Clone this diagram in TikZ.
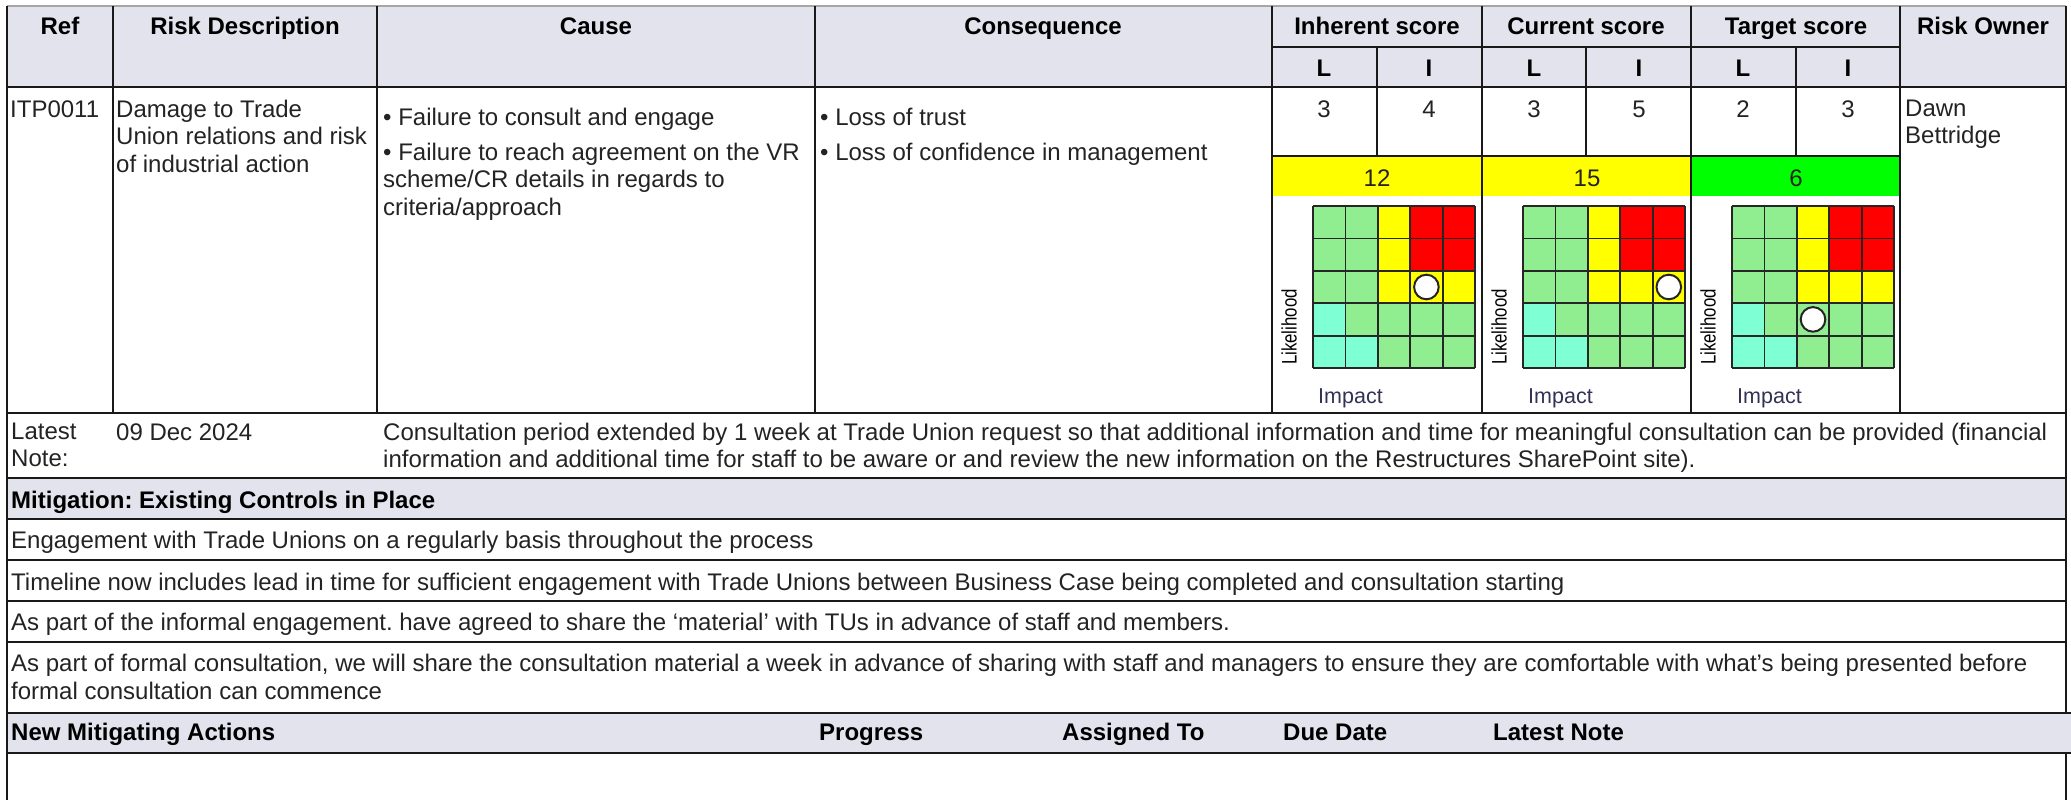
\documentclass[tikz,border=0pt]{standalone}
\usepackage{fontspec}
\setmainfont{Liberation Sans}
\usetikzlibrary{positioning}
\frenchspacing
\definecolor{hdrfill}{RGB}{227,227,238}
\definecolor{lowgreen}{RGB}{144,238,144}
\definecolor{midyellow}{RGB}{255,255,0}
\definecolor{highred}{RGB}{255,0,0}
\definecolor{lowcyan}{RGB}{127,255,212}
\definecolor{bandgreen}{RGB}{0,255,0}
\definecolor{inkgrey}{RGB}{35,35,35}
\definecolor{axisblue}{RGB}{50,50,85}
\tikzset{
  tabrule/.style={line width=2.6pt, draw=black!90},
  bodytext/.style={inner sep=0pt, text=inkgrey, font=\fontsize{24}{27.5}\selectfont},
  bodyblock/.style={bodytext, align=left},
  headtext/.style={inner sep=0pt, text=black, font=\bfseries\fontsize{24}{27.5}\selectfont},
  gridline/.style={line width=1.8pt, draw=black!85},
  scoremark/.style={circle, fill=white, draw=black!85, line width=2pt, minimum size=24.6pt, inner sep=0pt},
}
\begin{document}
\begin{tikzpicture}[x=1pt, y=-1pt]
  \useasboundingbox (0,0) rectangle (2071,800);
  % grey header bands
  \fill[hdrfill] (7,6) rectangle (2066,87);
  \fill[hdrfill] (7,478) rectangle (2066,519);
  \fill[hdrfill] (7,713) rectangle (2071,753);
  % score columns: L, I, total, band colour
  \foreach \sx/\sl/\si/\tot/\band/\nm in {1272/3/4/12/midyellow/inh, 1482/3/5/15/midyellow/cur, 1691/2/3/6/bandgreen/tgt} {
    \fill[\band] (\sx,156) rectangle ++(209,40);
    \begin{scope}[shift={(\sx+41,206)}]
      \foreach \c [count=\n from 0] in {lowgreen,lowgreen,midyellow,highred,highred,
          lowgreen,lowgreen,midyellow,highred,highred,
          lowgreen,lowgreen,midyellow,midyellow,midyellow,
          lowcyan,lowgreen,lowgreen,lowgreen,lowgreen,
          lowcyan,lowcyan,lowgreen,lowgreen,lowgreen} {
        \pgfmathtruncatemacro\cx{mod(\n,5)}
        \pgfmathtruncatemacro\cy{div(\n,5)}
        \fill[\c] (\cx*32.4,\cy*32.4) rectangle ++(32.4,32.4);
      }
      \foreach \g in {0,...,5} {
        \draw[gridline] (\g*32.4,0) -- (\g*32.4,162);
        \draw[gridline] (0,\g*32.4) -- (162,\g*32.4);
      }
      \node[scoremark] (\nm-mark) at ({(\si-0.5)*32.4},{(5.5-\sl)*32.4}) {};
    \end{scope}
    \node[rotate=90, inner sep=0pt, text=black, font=\fontsize{21}{21}\selectfont] (\nm-lik) at (\sx+17,327) {\scalebox{0.8}[1]{Likelihood}};
    \node[anchor=base west, inner sep=0pt, text=axisblue, font=\fontsize{21.5}{21.5}\selectfont] (\nm-imp) at (\sx+46,403) {Impact};
    \node[headtext, anchor=base] (\nm-hl) at (\sx+52,76) {L};
    \node[headtext, anchor=base] (\nm-hi) at (\sx+157,76) {I};
    \node[bodytext, anchor=base] (\nm-l) at (\sx+52,117) {\sl};
    \node[bodytext, anchor=base] (\nm-i) at (\sx+157,117) {\si};
    \node[bodytext, anchor=base] (\nm-tot) at (\sx+105,186) {\tot};
  }
  % table rules
  \draw[tabrule, draw=black!35] (7,6) -- (2066,6);
  \draw[tabrule] (1272,47) -- (1900,47);
  \draw[tabrule] (7,87) -- (2066,87);
  \draw[tabrule] (1272,156) -- (1900,156);
  \foreach \yy in {413,478,519,560,601,642} \draw[tabrule] (7,\yy) -- (2066,\yy);
  \draw[tabrule] (7,713) -- (2071,713);
  \draw[tabrule] (7,753) -- (2071,753);
  \foreach \xx in {113,377,815,1272,1482,1691,1900} \draw[tabrule] (\xx,6) -- (\xx,413);
  \foreach \xx in {1377,1586,1796} \draw[tabrule] (\xx,47) -- (\xx,156);
  \draw[tabrule] (7,6) -- (7,800);
  \draw[tabrule] (2066,6) -- (2066,713);
  \draw[tabrule] (2066,753) -- (2066,800);
  % column heads
  \node[headtext, anchor=base] (h-ref) at (60,35) {Ref};
  \node[headtext, anchor=base] (h-desc) at (245,35) {Risk Description};
  \node[headtext, anchor=base] (h-cause) at (596,35) {Cause};
  \node[headtext, anchor=base] (h-cons) at (1043,35) {Consequence};
  \node[headtext, anchor=base] (h-inh) at (1377,35) {Inherent score};
  \node[headtext, anchor=base] (h-cur) at (1586,35) {Current score};
  \node[headtext, anchor=base] (h-tgt) at (1796,35) {Target score};
  \node[headtext, anchor=base] (h-own) at (1983,35) {Risk Owner};
  % risk row
  \node[bodytext, anchor=base west] (ref) at (10,117) {ITP0011};
  \node[bodyblock, anchor=north west] (desc) at (116,99.5) {Damage to Trade\\Union relations and risk\\of industrial action};
  \node[bodytext, anchor=base west] (cause1) at (383,125) {• Failure to consult and engage};
  \node[bodyblock, anchor=north west] (cause2) at (383,142.7) {• Failure to reach agreement on the VR\\scheme/CR details in regards to\\criteria/approach};
  \node[bodytext, anchor=base west] (cons1) at (820,125) {• Loss of trust};
  \node[bodytext, anchor=base west] (cons2) at (820,160) {• Loss of confidence in management};
  \node[bodyblock, anchor=north west] (owner) at (1905,99.7) {Dawn\\Bettridge};
  % latest note
  \node[bodyblock, anchor=north west] (note-lbl) at (11,422.7) {Latest\\Note:};
  \node[bodytext, anchor=base west] (note-date) at (116,440) {09 Dec 2024};
  \node[bodyblock, anchor=north west] (note-text) at (383,422.7) {Consultation period extended by 1 week at Trade Union request so that additional information and time for meaningful consultation can be provided (financial\\information and additional time for staff to be aware or and review the new information on the Restructures SharePoint site).};
  % existing controls
  \node[headtext, anchor=base west] (mit-head) at (11,508) {Mitigation: Existing Controls in Place};
  \node[bodytext, anchor=base west] (mit1) at (11,548.5) {Engagement with Trade Unions on a regularly basis throughout the process};
  \node[bodytext, anchor=base west] (mit2) at (11,590) {Timeline now includes lead in time for sufficient engagement with Trade Unions between Business Case being completed and consultation starting};
  \node[bodytext, anchor=base west] (mit3) at (11,630) {As part of the informal engagement. have agreed to share the ‘material’ with TUs in advance of staff and members.};
  \node[bodyblock, anchor=north west] (mit4) at (11,654.3) {As part of formal consultation, we will share the consultation material a week in advance of sharing with staff and managers to ensure they are comfortable with what’s being presented before\\formal consultation can commence};
  % new actions
  \node[headtext, anchor=base west] (act-head) at (11,740) {New Mitigating Actions};
  \node[headtext, anchor=base west] (act-prog) at (819,740) {Progress};
  \node[headtext, anchor=base west] (act-who) at (1062,740) {Assigned To};
  \node[headtext, anchor=base west] (act-due) at (1283,740) {Due Date};
  \node[headtext, anchor=base west] (act-note) at (1493,740) {Latest Note};
\end{tikzpicture}
\end{document}
